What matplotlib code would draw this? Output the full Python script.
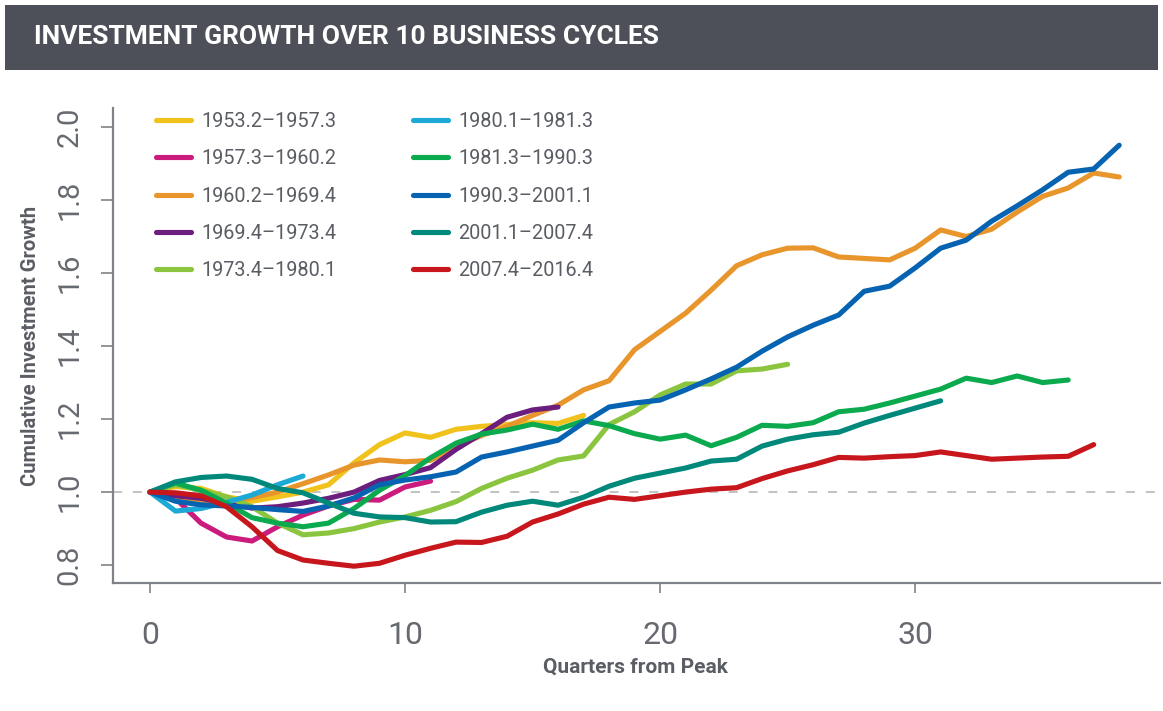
import matplotlib
matplotlib.use("Agg")
import matplotlib.pyplot as plt
from matplotlib.patches import Rectangle

# ---------------- data ----------------
labels = ["1953.2–1957.3", "1957.3–1960.2", "1960.2–1969.4", "1969.4–1973.4",
          "1973.4–1980.1", "1980.1–1981.3", "1981.3–1990.3", "1990.3–2001.1",
          "2001.1–2007.4", "2007.4–2016.4"]
colors = ["#F1C21B", "#CB1B7C", "#E8952B", "#6C1E7F", "#8BC540",
          "#1DA9D5", "#0BAA4F", "#0563B1", "#00897A", "#C8161D"]

c1953 = [1.0, 1.015, 1.01, 0.987, 0.975, 0.987, 1.0, 1.02, 1.08, 1.13, 1.162, 1.15,
         1.172, 1.18, 1.185, 1.19, 1.188, 1.21]
c1957 = [1.0, 0.983, 0.915, 0.877, 0.866, 0.905, 0.937, 0.962, 0.98, 0.978, 1.014, 1.03]
c1960 = [1.0, 0.98, 0.972, 0.97, 0.985, 1.0, 1.023, 1.047, 1.074, 1.088, 1.083, 1.087,
         1.125, 1.155, 1.18, 1.21, 1.238, 1.28, 1.305, 1.39, 1.44, 1.49, 1.553, 1.62,
         1.65, 1.668, 1.669, 1.644, 1.64, 1.636, 1.668, 1.718, 1.70, 1.72, 1.767, 1.81,
         1.833, 1.874, 1.863]
c1969 = [1.0, 0.99, 0.983, 0.97, 0.956, 0.96, 0.97, 0.983, 1.0, 1.032, 1.048, 1.067,
         1.117, 1.16, 1.205, 1.225, 1.233]
c1973 = [1.0, 1.02, 1.005, 0.987, 0.96, 0.915, 0.883, 0.888, 0.9, 0.918, 0.932, 0.95,
         0.974, 1.01, 1.038, 1.06, 1.088, 1.099, 1.185, 1.22, 1.266, 1.296, 1.296, 1.332,
         1.337, 1.35]
c1980 = [1.0, 0.948, 0.955, 0.972, 0.992, 1.02, 1.044]
c1981 = [1.0, 1.025, 1.005, 0.97, 0.93, 0.915, 0.905, 0.915, 0.955, 1.005, 1.045, 1.094,
         1.134, 1.159, 1.17, 1.186, 1.172, 1.195, 1.182, 1.16, 1.145, 1.156, 1.127, 1.15,
         1.183, 1.18, 1.19, 1.22, 1.227, 1.244, 1.263, 1.282, 1.312, 1.30, 1.318, 1.30,
         1.307]
c1990 = [1.0, 0.975, 0.965, 0.962, 0.958, 0.952, 0.947, 0.962, 0.984, 1.02, 1.033, 1.042,
         1.055, 1.096, 1.11, 1.126, 1.142, 1.19, 1.233, 1.244, 1.252, 1.28, 1.31, 1.342,
         1.386, 1.425, 1.457, 1.485, 1.55, 1.564, 1.614, 1.668, 1.69, 1.742, 1.784, 1.828,
         1.876, 1.885, 1.95]
c2001 = [1.0, 1.028, 1.04, 1.044, 1.035, 1.01, 0.998, 0.97, 0.942, 0.932, 0.93, 0.918,
         0.919, 0.945, 0.964, 0.975, 0.964, 0.986, 1.016, 1.038, 1.052, 1.066, 1.085, 1.09,
         1.126, 1.145, 1.157, 1.164, 1.189, 1.21, 1.23, 1.25]
c2007 = [1.0, 0.998, 0.99, 0.96, 0.905, 0.84, 0.814, 0.805, 0.797, 0.805, 0.827, 0.846,
         0.863, 0.862, 0.879, 0.918, 0.94, 0.967, 0.986, 0.98, 0.99, 1.0, 1.008, 1.012,
         1.037, 1.058, 1.075, 1.095, 1.093, 1.097, 1.10, 1.11, 1.10, 1.09, 1.093, 1.096,
         1.098, 1.13]
series = [c1953, c1957, c1960, c1969, c1973, c1980, c1981, c1990, c2001, c2007]

x_ticks = [0, 10, 20, 30]
y_ticks = [0.8, 1.0, 1.2, 1.4, 1.6, 1.8, 2.0]

# ---------------- figure ----------------
W, H = 1163, 711
fig = plt.figure(figsize=(W / 100, H / 100), dpi=100)
fig.patch.set_facecolor("white")

TXT = "#5A5D63"

# title bar
fig.patches.append(Rectangle((5 / W, 1 - 70 / H), 1153 / W, 65 / H,
                             transform=fig.transFigure, facecolor="#4D5058",
                             edgecolor="none", zorder=0))
fig.text(34 / W, 1 - 37 / H, "INVESTMENT GROWTH OVER 10 BUSINESS CYCLES",
         color="white", fontsize=19, fontweight="bold", family="Roboto",
         va="center", ha="left")

ax = fig.add_axes([113 / W, 1 - 583 / H, (1160 - 113) / W, (583 - 108) / H])
for vals, col, lab in zip(series, colors, labels):
    ax.plot(range(len(vals)), vals, color=col, lw=3.7, label=lab,
            solid_capstyle="round", solid_joinstyle="round")

ax.axhline(1.0, color="#BDBDBD", lw=1.3, ls=(0, (5, 6)), zorder=0.5)

ax.set_xlim(-1.45, 39.6)
ax.set_ylim(0.751, 2.052)
ax.set_xticks(x_ticks)
ax.set_yticks(y_ticks)
ax.set_xticklabels([str(v) for v in x_ticks])
ax.set_yticklabels([f"{v:.1f}" for v in y_ticks], rotation=90, va="center")

for s in ["top", "right"]:
    ax.spines[s].set_visible(False)
for s in ["left", "bottom"]:
    ax.spines[s].set_color("#7F8288")
    ax.spines[s].set_linewidth(1.6)

ax.tick_params(axis="both", colors="#8A8C90", width=1.3, length=7)
ax.tick_params(axis="y", length=9, pad=12, labelsize=21, labelcolor="#66696F")
ax.tick_params(axis="x", pad=20, labelsize=23, labelcolor="#66696F")
for t in ax.get_xticklabels() + ax.get_yticklabels():
    t.set_family("Roboto")
    t.set_fontweight("normal")

ax.set_ylabel("Cumulative Investment Growth", fontsize=14.5, fontweight="bold",
              color=TXT, family="Roboto")
ax.yaxis.set_label_coords(-0.070, 0.5)
ax.set_xlabel("Quarters from Peak", fontsize=15, fontweight="bold",
              color=TXT, family="Roboto")
ax.xaxis.set_label_coords(0.499, -0.157)

leg = ax.legend(ncol=2, loc="upper left", bbox_to_anchor=(0.024, 1.029),
                frameon=False, handlelength=1.76,
                handletextpad=0.5, columnspacing=3.9, labelspacing=0.92,
                prop={"family": "Roboto", "size": 14.3})
for t in leg.get_texts():
    t.set_color(TXT)

fig.savefig("out.png", dpi=100)
